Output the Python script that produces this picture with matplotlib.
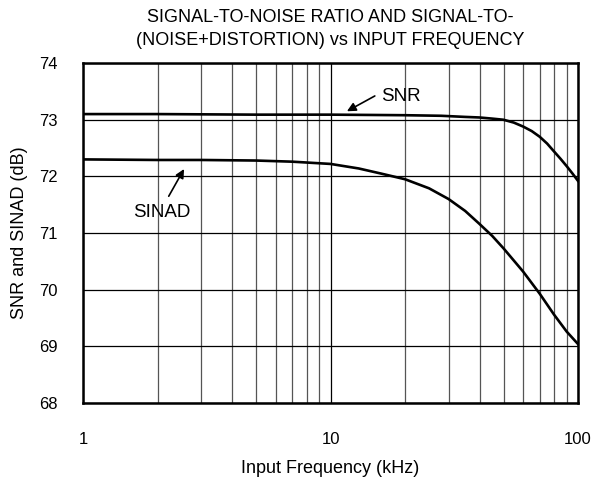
import matplotlib
matplotlib.use("Agg")
import matplotlib.pyplot as plt
from matplotlib.ticker import FixedLocator, NullFormatter

plt.rcParams["font.family"] = ["Liberation Sans", "DejaVu Sans"]

# values
snr_freq = [1, 2, 5, 10, 20, 28, 35, 40, 45, 50, 55, 60, 65, 70, 75, 80, 85, 90, 95, 100]
snr_db = [73.1, 73.1, 73.09, 73.09, 73.08, 73.07, 73.05, 73.04, 73.02, 73.0, 72.95,
          72.88, 72.8, 72.7, 72.58, 72.44, 72.31, 72.18, 72.05, 71.92]
sinad_freq = [1, 2, 3, 5, 7, 10, 13, 16, 20, 25, 30, 35, 40, 45, 50, 60, 70, 80, 90, 100]
sinad_db = [72.3, 72.29, 72.29, 72.28, 72.26, 72.22, 72.14, 72.05, 71.95, 71.79, 71.6,
            71.39, 71.16, 70.95, 70.73, 70.32, 69.93, 69.56, 69.26, 69.04]

x_ticks = [1, 10, 100]
x_tick_labels = ["1", "10", "100"]
y_ticks = [68, 69, 70, 71, 72, 73, 74]

fig = plt.figure(figsize=(5.98, 4.78), dpi=100)
ax = fig.add_axes([0.1388, 0.1569, 0.9666 - 0.1388, 0.868 - 0.1569])

ax.set_xscale("log")
ax.set_xlim(1, 100)
ax.set_ylim(68, 74)
ax.set_xticks(x_ticks)
ax.set_xticklabels(x_tick_labels)
ax.xaxis.set_minor_locator(FixedLocator([m * d for d in (1, 10) for m in range(2, 10)]))
ax.xaxis.set_minor_formatter(NullFormatter())
ax.set_yticks(y_ticks)

ax.grid(which="major", color="black", linewidth=0.9)
ax.grid(which="minor", axis="x", color="#555555", linewidth=0.9)
ax.tick_params(which="both", length=0, labelsize=12)
ax.tick_params(axis="x", pad=21)
ax.tick_params(axis="y", pad=18)
for s in ax.spines.values():
    s.set_linewidth(1.8)

ax.plot(snr_freq, snr_db, color="black", linewidth=1.9)
ax.plot(sinad_freq, sinad_db, color="black", linewidth=1.9)

arrow = dict(arrowstyle="-|>", color="black", lw=1.2, mutation_scale=13,
             shrinkA=0, shrinkB=0)
ax.annotate("", xy=(11.65, 73.15), xytext=(15.1, 73.42), arrowprops=arrow)
ax.text(16.0, 73.41, "SNR", fontsize=13.5, ha="left", va="center")
ax.annotate("", xy=(2.56, 72.13), xytext=(2.22, 71.65), arrowprops=arrow)
ax.text(2.09, 71.37, "SINAD", fontsize=13.5, ha="center", va="center")

ax.set_xlabel("Input Frequency (kHz)", fontsize=13, labelpad=9)
ax.set_ylabel("SNR and SINAD (dB)", fontsize=13, labelpad=8)
ax.set_title("SIGNAL-TO-NOISE RATIO AND SIGNAL-TO-\n(NOISE+DISTORTION) vs INPUT FREQUENCY",
             fontsize=13, pad=13, linespacing=1.45)

fig.savefig("out.png", dpi=100)
